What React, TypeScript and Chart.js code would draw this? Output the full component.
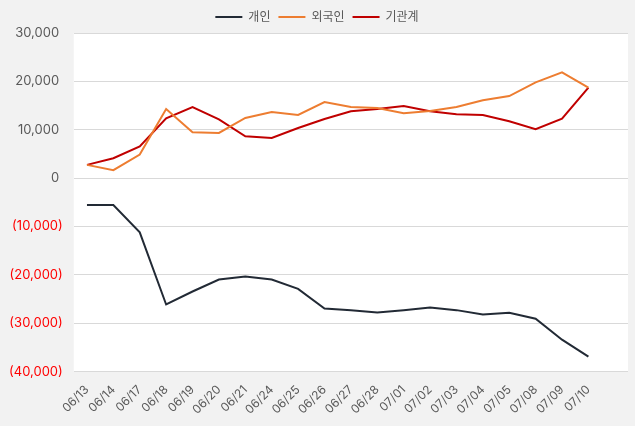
import React, { useEffect, useRef } from "react";
import { Chart, registerables } from "chart.js";

Chart.register(...registerables);

const dates = [
  "06/13", "06/14", "06/17", "06/18", "06/19", "06/20", "06/21", "06/24", "06/25", "06/26",
  "06/27", "06/28", "07/01", "07/02", "07/03", "07/04", "07/05", "07/08", "07/09", "07/10", "",
];
const individual = [
  -5570, -5570, -11200, -26120, -23440, -20960, -20340, -20960, -22890, -26940,
  -27300, -27770, -27290, -26740, -27290, -28180, -27840, -29070, -33400, -36900,
];
const foreigner = [
  2740, 1650, 4880, 14290, 9480, 9340, 12440, 13680, 13050, 15730,
  14700, 14500, 13400, 13880, 14700, 16080, 16970, 19790, 21860, 18700,
];
const institution = [
  2740, 4120, 6530, 12370, 14700, 12160, 8660, 8310, 10370, 12230,
  13810, 14290, 14900, 13810, 13200, 13050, 11750, 10100, 12300, 18700,
];
const yTicks = [30000, 20000, 10000, 0, -10000, -20000, -30000, -40000];

const FONT = "Inter, 'Noto Sans CJK KR', sans-serif";

const bgPlugin = {
  id: "areaBg",
  beforeDraw(chart: any) {
    const { ctx, chartArea, width, height } = chart;
    ctx.save();
    ctx.fillStyle = "#f2f2f2";
    ctx.fillRect(0, 0, width, height);
    ctx.fillStyle = "#ffffff";
    ctx.fillRect(chartArea.left, chartArea.top, chartArea.right - chartArea.left, chartArea.bottom - chartArea.top);
    ctx.restore();
  },
};

function fmt(v: number) {
  const s = Math.abs(v).toLocaleString("en-US");
  return v < 0 ? `(${s})` : `${s} `;
}

export default function App() {
  const ref = useRef<HTMLCanvasElement | null>(null);
  useEffect(() => {
    document.body.style.margin = "0";
    document.body.style.background = "#f2f2f2";
    const mk = (label: string, data: number[], color: string) => ({
      label,
      data,
      borderColor: color,
      backgroundColor: color,
      borderWidth: 2,
      pointRadius: 0,
      tension: 0,
    });
    const chart = new Chart(ref.current!, {
      type: "line",
      data: {
        labels: dates,
        datasets: [
          mk("개인", individual, "#222a35"),
          mk("외국인", foreigner, "#ed7d31"),
          mk("기관계", institution, "#c00000"),
        ],
      },
      options: {
        animation: false,
        responsive: false,
        layout: { padding: { left: 6, right: 7, top: 3, bottom: 6 } },
        plugins: {
          legend: {
            position: "top",
            labels: {
              color: "#595959",
              font: { family: FONT, size: 12 },
              boxWidth: 27,
              boxHeight: 2,
              padding: 8,
              generateLabels(chart: any) {
                const items = Chart.defaults.plugins.legend.labels.generateLabels(chart);
                return items.map((it: any) => ({ ...it, lineWidth: 0 }));
              },
            },
          },
          tooltip: { enabled: false },
        },
        scales: {
          x: {
            offset: true,
            grid: { display: false },
            border: { display: false },
            ticks: {
              color: "#595959",
              font: { family: FONT, size: 12 },
              autoSkip: false,
              maxRotation: 45,
              minRotation: 45,
            },
          },
          y: {
            min: -40000,
            max: 30000,
            afterBuildTicks(scale: any) {
              scale.ticks = yTicks.map((v) => ({ value: v }));
            },
            grid: { color: "#d9d9d9", tickColor: "transparent", drawTicks: true, tickLength: 8 },
            border: { display: false },
            ticks: {
              font: { family: FONT, size: 13 },
              color: (c: any) => (c.tick && c.tick.value < 0 ? "#ff0000" : "#595959"),
              callback: (v: any) => fmt(Number(v)),
              padding: 3,
            },
          },
        },
      },
      plugins: [bgPlugin],
    });
    return () => chart.destroy();
  }, []);
  return <canvas ref={ref} width={635} height={426} style={{ display: "block" }} />;
}
